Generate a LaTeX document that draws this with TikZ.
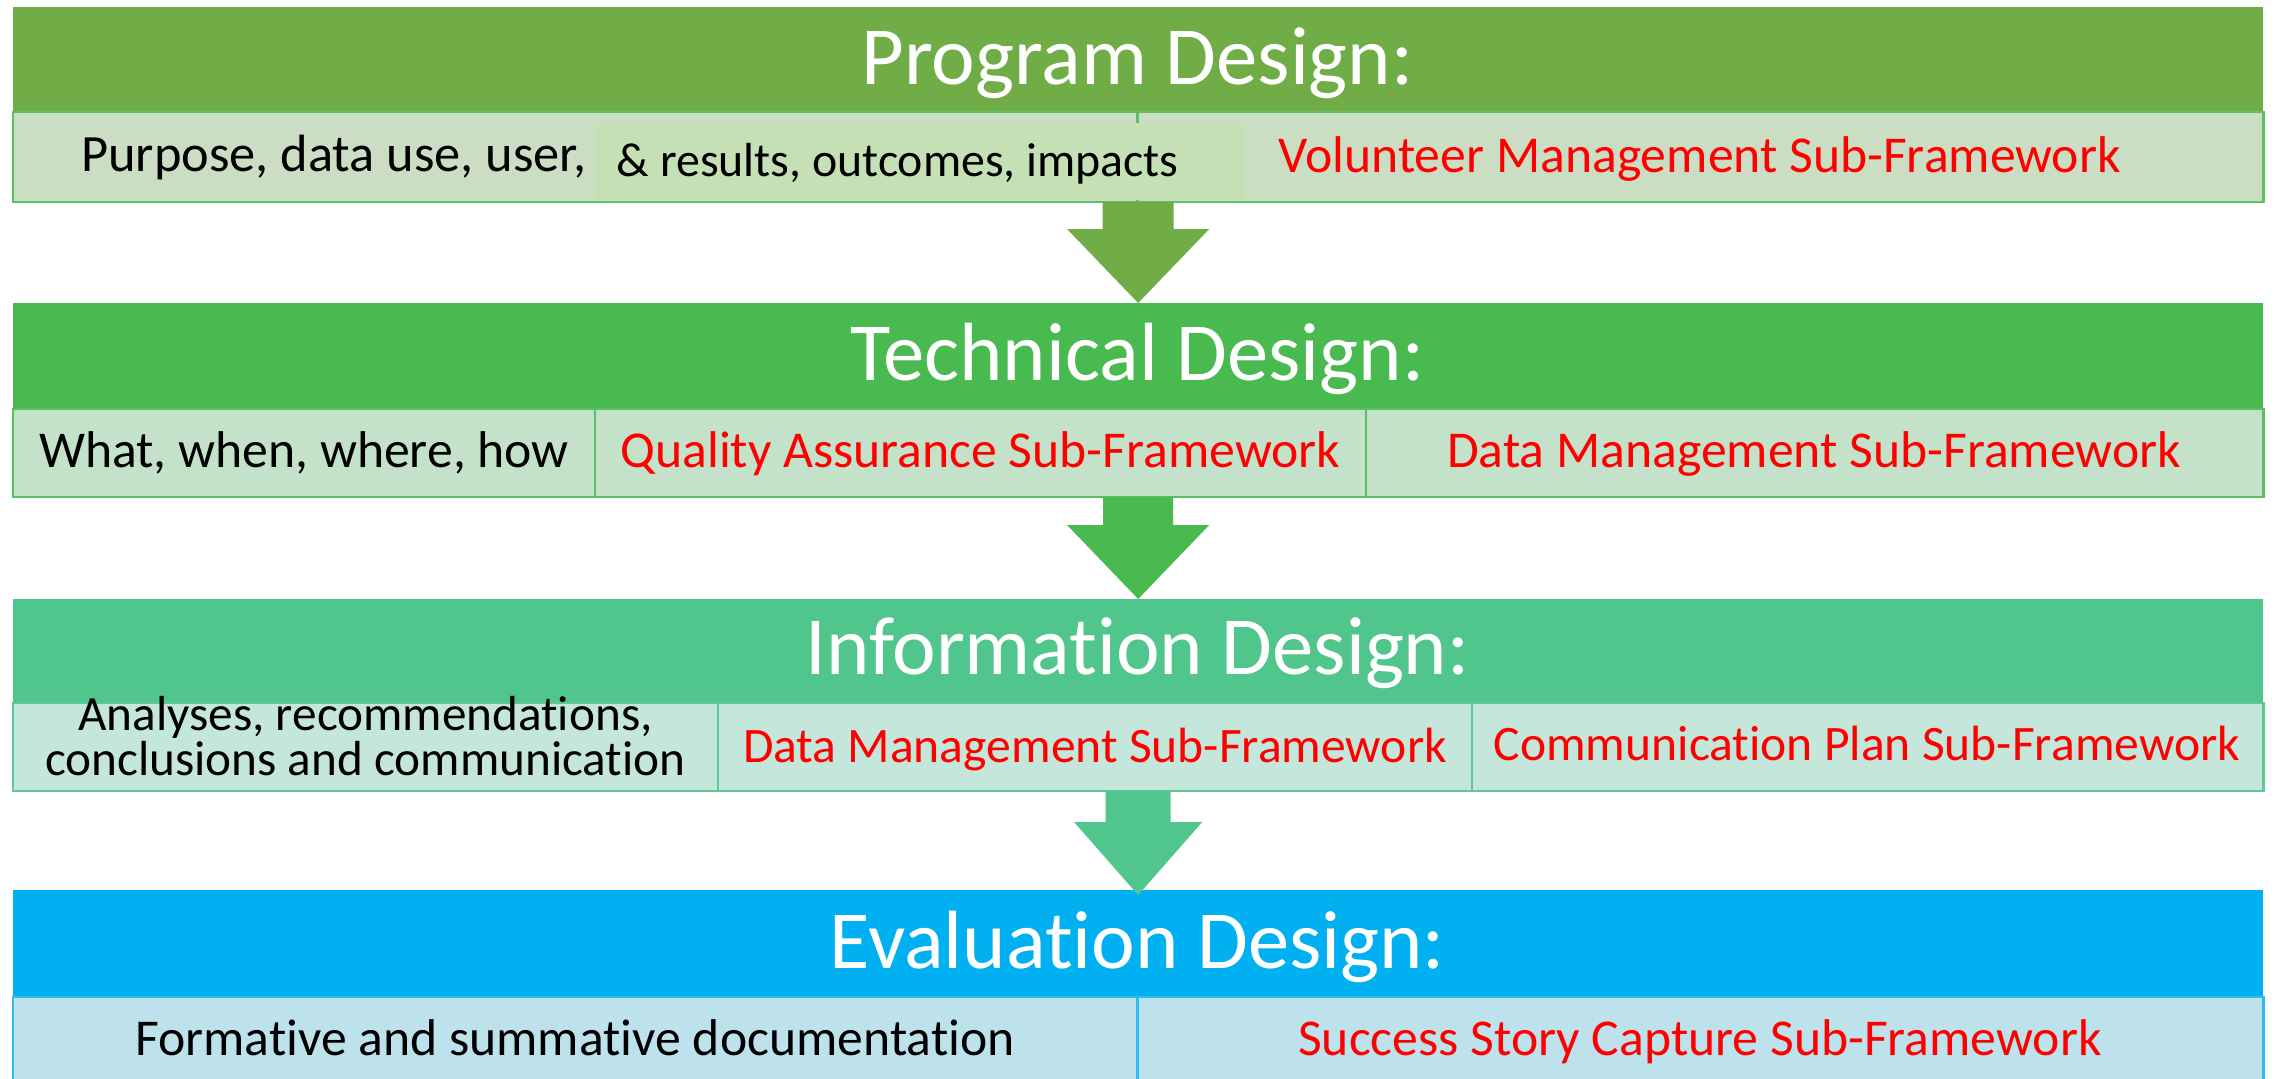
\documentclass[tikz,border=0pt]{standalone}
\usepackage{fontspec}
\setmainfont{Carlito}[Ligatures=NoCommon]
\usetikzlibrary{calc}

\definecolor{pgHead}{HTML}{70AD47}
\definecolor{pgRow}{HTML}{CBDEC4}
\definecolor{pgLine}{HTML}{5CC065}
\definecolor{pgOver}{HTML}{C5E0B4}
\definecolor{tdHead}{HTML}{49BA50}
\definecolor{tdRow}{HTML}{C4E2C9}
\definecolor{tdLine}{HTML}{5BBF5F}
\definecolor{ifHead}{HTML}{50C68C}
\definecolor{ifRow}{HTML}{C5E6DA}
\definecolor{ifLine}{HTML}{60C894}
\definecolor{evHead}{HTML}{00B0F0}
\definecolor{evRow}{HTML}{BDE2EC}
\definecolor{evLine}{HTML}{2EBDF0}
\definecolor{subRed}{HTML}{FF0000}

\begin{document}
\begin{tikzpicture}[x=0.01cm,y=-0.01cm,
    band/.style={anchor=north west,minimum width=22.49cm,inner sep=0pt,outer sep=0pt},
    strip/.style={band,fill=#1Row,draw=#1Line,line width=0.7pt},
    divider/.style={draw=#1Line,line width=0.7pt},
    title/.style={anchor=base,inner sep=0pt,text=white,font=\fontsize{23.5}{28}\selectfont},
    item/.style={anchor=base,inner sep=0pt,font=\fontsize{14.7}{17}\selectfont},
    sub/.style={item,text=subRed}]
    \useasboundingbox (0,0) rectangle (2274,1079);
    \fill[white] (0,0) rectangle (2274,1079);
    %% Program design
    \node[band,fill=pgHead,minimum height=1.05cm] (pg) at (13,7) {};
    \node[title] (pgTitle) at (1137.5,85) {Program Design:};
    \node[strip=pg,minimum height=0.90cm] (pgRow) at (pg.south west) {};
    \draw[divider=pg] (1137.5,0 |- pgRow.north) -- (1137.5,0 |- pgRow.south);
    \node[item,font=\fontsize{14.9}{17}\selectfont] (pgUse) at (334,172) {Purpose, data use, user,};
    \node[band,fill=pgOver,minimum width=6.50cm,minimum height=0.77cm] (pgBox) at (595,123) {};
    \node[item,anchor=base west,font=\fontsize{13.6}{16}\selectfont] (pgRes) at (616,177) {\& results, outcomes, impacts};
    \node[sub] (pgVol) at (1699.5,173) {Volunteer Management Sub-Framework};
    %% Technical design
    \node[band,fill=tdHead,minimum height=1.06cm] (td) at (13,303) {};
    \node[title] (tdTitle) at (1137.5,380) {Technical Design:};
    \node[strip=td,minimum height=0.88cm] (tdRow) at (td.south west) {};
    \draw[divider=td] (595,0 |- tdRow.north) -- (595,0 |- tdRow.south);
    \draw[divider=td] (1366,0 |- tdRow.north) -- (1366,0 |- tdRow.south);
    \node[item] (tdWhat) at (304,468) {What, when, where, how};
    \node[sub] (tdQual) at (980.5,468) {Quality Assurance Sub-Framework};
    \node[sub] (tdData) at (1814,468) {Data Management Sub-Framework};
    %% Information design
    \node[band,fill=ifHead,minimum height=1.04cm] (if) at (13,599) {};
    \node[title] (ifTitle) at (1137.5,675) {Information Design:};
    \node[strip=if,minimum height=0.88cm] (ifRow) at (if.south west) {};
    \draw[divider=if] (718,0 |- ifRow.north) -- (718,0 |- ifRow.south);
    \draw[divider=if] (1472,0 |- ifRow.north) -- (1472,0 |- ifRow.south);
    \node[item,anchor=center,align=center,font=\fontsize{14}{11.4}\selectfont] (ifAna) at (365.5,736) {Analyses, recommendations,\\conclusions and communication};
    \node[sub,font=\fontsize{14.1}{17}\selectfont] (ifData) at (1095,762) {Data Management Sub-Framework};
    \node[sub,font=\fontsize{14.1}{17}\selectfont] (ifComm) at (1867,760) {Communication Plan Sub-Framework};
    %% Evaluation design
    \node[band,fill=evHead,minimum height=1.07cm] (ev) at (13,890) {};
    \node[title] (evTitle) at (1137.5,968) {Evaluation Design:};
    \node[strip=ev,minimum height=0.88cm] (evRow) at (ev.south west) {};
    \draw[divider=ev] (1137.5,0 |- evRow.north) -- (1137.5,0 |- evRow.south);
    \node[item] (evDoc) at (575,1055) {Formative and summative documentation};
    \node[sub] (evStory) at (1700,1055) {Success Story Capture Sub-Framework};
    %% Arrows
    \fill[pgHead] ($(pgRow.south)+(-35.5,0)$) -- ++(0,27) -- ++(-35.5,0) -- (td.north)
        -- ($(pgRow.south)+(71,27)$) -- ++(-35.5,0) -- ++(0,-27) -- cycle;
    \fill[tdHead] ($(tdRow.south)+(-35,0)$) -- ++(0,28) -- ++(-36,0) -- (if.north)
        -- ($(tdRow.south)+(71,28)$) -- ++(-36,0) -- ++(0,-28) -- cycle;
    \fill[ifHead] ($(ifRow.south)+(-32.5,0)$) -- ++(0,31) -- ++(-31.5,0) -- ($(ev.north)+(0,5)$)
        -- ($(ifRow.south)+(64,31)$) -- ++(-31.5,0) -- ++(0,-31) -- cycle;
\end{tikzpicture}
\end{document}
